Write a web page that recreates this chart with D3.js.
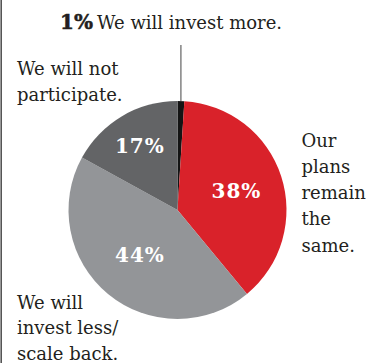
<!DOCTYPE html>
<html>
<head>
<meta charset="utf-8">
<script src="https://cdn.jsdelivr.net/npm/d3@7"></script>
<style>
  html, body { margin: 0; padding: 0; background: #fff; }
  svg { display: block; }
</style>
</head>
<body>
<svg id="chart" width="382" height="363"></svg>
<script>
// Survey answers, clockwise from twelve o'clock
const categories = [
  "We will invest more.",
  "Our\nplans\nremain\nthe\nsame.",
  "We will\ninvest less/\nscale back.",
  "We will not\nparticipate."
];
const shares = [1, 38, 44, 17];
const shareLabels = ["1%", "38%", "44%", "17%"];
const sliceColors = ["#141414", "#d9222a", "#939598", "#636466"];

const W = 382, H = 363;
const cx = 177.5, cy = 210, R = 109;
const serif = "'DejaVu Serif', serif";
const ink = "#231f20";

const svg = d3.select("#chart");

// Left frame rule
svg.append("line")
  .attr("x1", 1.2).attr("x2", 1.2).attr("y1", 0).attr("y2", H)
  .attr("stroke", "#555").attr("stroke-width", 1.6);

const pie = d3.pie().sort(null).value(d => d);
const arcs = pie(shares);
const arc = d3.arc().innerRadius(0).outerRadius(R);

const g = svg.append("g").attr("transform", `translate(${cx},${cy})`);

g.selectAll("path.slice")
  .data(arcs)
  .join("path")
  .attr("class", "slice")
  .attr("d", arc)
  .attr("fill", (d, i) => sliceColors[i]);

// Percent labels inside the larger slices (radius tuned per slice)
const innerRadius = [null, 62, 59, 74];
arcs.forEach((d, i) => {
  if (innerRadius[i] == null) return;
  const a = (d.startAngle + d.endAngle) / 2;
  const x = Math.sin(a) * innerRadius[i];
  const y = -Math.cos(a) * innerRadius[i];
  g.append("text")
    .attr("x", x).attr("y", y)
    .attr("text-anchor", "middle")
    .attr("dominant-baseline", "central")
    .attr("fill", "#fff")
    .attr("font-family", serif)
    .attr("font-weight", "bold")
    .attr("font-size", 20)
    .attr("letter-spacing", 1)
    .text(shareLabels[i]);
});

// Leader for the thin slice, running up to its caption
const thin = arcs[0];
const ta = (thin.startAngle + thin.endAngle) / 2;
const lx = cx + Math.sin(ta) * R;
svg.append("line")
  .attr("x1", lx).attr("x2", lx)
  .attr("y1", cy - Math.cos(ta) * R).attr("y2", 45)
  .attr("stroke", "#444").attr("stroke-width", 1);

// Caption of the thin slice: bold share followed by the answer
svg.append("text")
  .attr("x", 60).attr("y", 28.5)
  .attr("fill", ink)
  .attr("font-family", serif)
  .attr("font-weight", "bold")
  .attr("font-size", 20)
  .attr("stroke", ink).attr("stroke-width", 0.5)
  .text(shareLabels[0]);
svg.append("text")
  .attr("x", 97).attr("y", 28.5)
  .attr("fill", ink)
  .attr("font-family", serif)
  .attr("font-size", 18)
  .text(categories[0]);

// Multi-line captions for the other answers
const captionPos = [null, [301.5, 146.7, 26.2], [17, 308.5, 25.5], [17, 75, 25.5]];
captionPos.forEach((p, i) => {
  if (!p) return;
  const t = svg.append("text")
    .attr("fill", ink)
    .attr("font-family", serif)
    .attr("font-size", 18);
  categories[i].split("\n").forEach((line, k) => {
    t.append("tspan")
      .attr("x", p[0])
      .attr("y", p[1] + k * p[2])
      .text(line);
  });
});
</script>
</body>
</html>
